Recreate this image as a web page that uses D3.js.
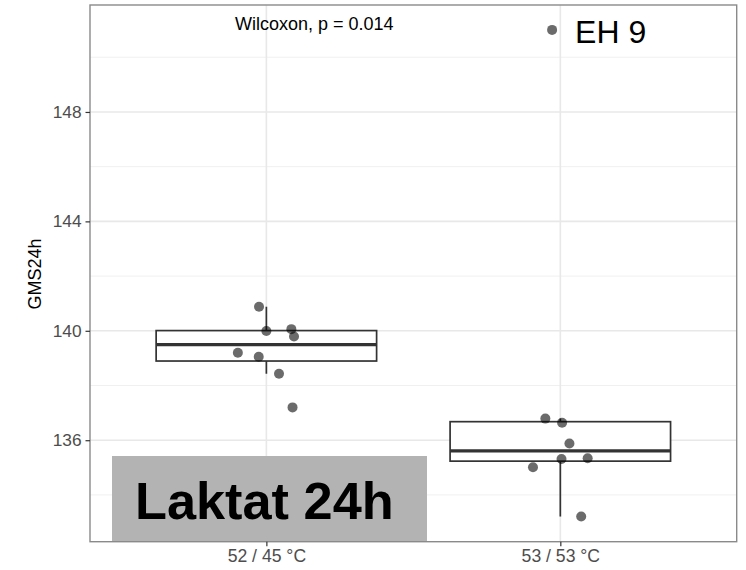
<!DOCTYPE html>
<html>
<head>
<meta charset="utf-8">
<script src="https://cdn.jsdelivr.net/npm/d3@7"></script>
<style>
  html, body { margin: 0; padding: 0; background: #fff; }
  svg { display: block; font-family: "Liberation Sans", Arial, sans-serif; }
</style>
</head>
<body>
<svg id="chart" width="746" height="570"></svg>
<script>
// Groups on the x axis
const categories = ["52 / 45 °C", "53 / 53 °C"];

// GMS24h per animal in each group
const valuesGroup1 = [140.88, 139.99, 140.06, 139.79, 139.20, 139.05, 138.43, 137.20];
const valuesGroup2 = [136.79, 136.64, 135.88, 135.34, 135.31, 135.01, 133.21, 151.00];

// Horizontal jitter of each point, as a fraction of the category step
const jitterGroup1 = [-0.025, 0.0, 0.085, 0.094, -0.097, -0.026, 0.043, 0.089];
const jitterGroup2 = [-0.051, 0.006, 0.031, 0.093, 0.004, -0.093, 0.071, -0.028];

// Axis ticks
const yMajorTicks = [136, 140, 144, 148];
const yMinorTicks = [134, 138, 142, 146, 150];

// Annotations
const testLabel = "Wilcoxon, p = 0.014";
const outlierLabel = "EH 9";
const outlierIndex = 7; // within group 2
const panelTitle = "Laktat 24h";
const yTitle = "GMS24h";

const groups = [
  { cat: categories[0], values: valuesGroup1, jitter: jitterGroup1 },
  { cat: categories[1], values: valuesGroup2, jitter: jitterGroup2 }
];

const svg = d3.select("#chart");
const panel = { left: 90, right: 736.7, top: 5, bottom: 541.7 };

const y = d3.scaleLinear().domain([132.29, 151.91]).range([panel.bottom, panel.top]);
const x = d3.scalePoint().domain(categories).range([panel.left, panel.right]).padding(0.6);
const step = x.step();

// Box statistics (Tukey, quantile type 7)
function boxStats(vals) {
  const s = vals.slice().sort(d3.ascending);
  const q1 = d3.quantile(s, 0.25), med = d3.quantile(s, 0.5), q3 = d3.quantile(s, 0.75);
  const iqr = q3 - q1;
  const lo = d3.min(s.filter(v => v >= q1 - 1.5 * iqr));
  const hi = d3.max(s.filter(v => v <= q3 + 1.5 * iqr));
  return { q1, med, q3, lo, hi };
}

// Panel background and grid
svg.append("rect")
  .attr("x", panel.left).attr("y", panel.top)
  .attr("width", panel.right - panel.left).attr("height", panel.bottom - panel.top)
  .attr("fill", "#fff");

const grid = svg.append("g");
grid.selectAll(".minor").data(yMinorTicks).join("line")
  .attr("x1", panel.left).attr("x2", panel.right)
  .attr("y1", d => y(d)).attr("y2", d => y(d))
  .attr("stroke", "#f0f0f0").attr("stroke-width", 1);
grid.selectAll(".major").data(yMajorTicks).join("line")
  .attr("x1", panel.left).attr("x2", panel.right)
  .attr("y1", d => y(d)).attr("y2", d => y(d))
  .attr("stroke", "#e8e8e8").attr("stroke-width", 1.6);
grid.selectAll(".vmajor").data(categories).join("line")
  .attr("x1", d => x(d)).attr("x2", d => x(d))
  .attr("y1", panel.top).attr("y2", panel.bottom)
  .attr("stroke", "#e8e8e8").attr("stroke-width", 1.6);

// Boxplots
const boxW = step * 0.75;
const boxes = svg.append("g");
groups.forEach(g => {
  const st = boxStats(g.values);
  const cx = x(g.cat);
  const b = boxes.append("g").attr("stroke", "#333").attr("fill", "none");
  b.append("line").attr("x1", cx).attr("x2", cx).attr("y1", y(st.q3)).attr("y2", y(st.hi)).attr("stroke-width", 1.7);
  b.append("line").attr("x1", cx).attr("x2", cx).attr("y1", y(st.q1)).attr("y2", y(st.lo)).attr("stroke-width", 1.7);
  b.append("rect")
    .attr("x", cx - boxW / 2).attr("width", boxW)
    .attr("y", y(st.q3)).attr("height", y(st.q1) - y(st.q3))
    .attr("fill", "#fff").attr("stroke-width", 1.7);
  b.append("line")
    .attr("x1", cx - boxW / 2).attr("x2", cx + boxW / 2)
    .attr("y1", y(st.med)).attr("y2", y(st.med))
    .attr("stroke-width", 3.2);
});

// Jittered points
const pts = svg.append("g");
groups.forEach(g => {
  pts.selectAll(null).data(g.values.map((v, i) => ({ v, j: g.jitter[i] }))).join("circle")
    .attr("cx", d => x(g.cat) + d.j * step)
    .attr("cy", d => y(d.v))
    .attr("r", 5)
    .attr("fill", "#000").attr("fill-opacity", 0.58);
});

// Panel border
svg.append("rect")
  .attr("x", panel.left).attr("y", panel.top)
  .attr("width", panel.right - panel.left).attr("height", panel.bottom - panel.top)
  .attr("fill", "none").attr("stroke", "#8a8a8a").attr("stroke-width", 1.4);

// Y axis
const yAxis = svg.append("g")
  .attr("transform", `translate(${panel.left},0)`)
  .call(d3.axisLeft(y).tickValues(yMajorTicks).tickSize(4.5).tickPadding(4).tickFormat(d3.format("d")));
yAxis.select(".domain").remove();
yAxis.selectAll(".tick line").attr("stroke", "#333").attr("stroke-width", 1.2);
yAxis.selectAll(".tick text").attr("fill", "#4d4d4d").style("font-size", "17.3px")
  .style("font-family", "'Liberation Sans', Arial, sans-serif");

// X axis
const xAxis = svg.append("g")
  .attr("transform", `translate(0,${panel.bottom})`)
  .call(d3.axisBottom(x).tickSize(4.5).tickPadding(3));
xAxis.select(".domain").remove();
xAxis.selectAll(".tick line").attr("stroke", "#333").attr("stroke-width", 1.2);
xAxis.selectAll(".tick text").attr("fill", "#4d4d4d").style("font-size", "17.6px")
  .style("font-family", "'Liberation Sans', Arial, sans-serif");

// Y axis title
svg.append("text")
  .attr("transform", `translate(41,274) rotate(-90)`)
  .attr("text-anchor", "middle")
  .attr("fill", "#000")
  .style("font-size", "18px")
  .text(yTitle);

// Test result
svg.append("text")
  .attr("x", 235).attr("y", 30)
  .attr("fill", "#000")
  .style("font-size", "18px")
  .text(testLabel);

// Outlier label
const oCx = x(categories[1]) + jitterGroup2[outlierIndex] * step;
const oCy = y(valuesGroup2[outlierIndex]);
svg.append("text")
  .attr("x", oCx + 23).attr("y", oCy + 13)
  .attr("fill", "#000")
  .style("font-size", "32px")
  .text(outlierLabel);

// Panel title box
svg.append("rect")
  .attr("x", 112).attr("y", 456).attr("width", 315).attr("height", 85)
  .attr("fill", "#b3b3b3");
svg.append("text")
  .attr("x", 135).attr("y", 519)
  .attr("fill", "#000")
  .style("font-size", "52.3px").style("font-weight", "bold")
  .text(panelTitle);
</script>
</body>
</html>
